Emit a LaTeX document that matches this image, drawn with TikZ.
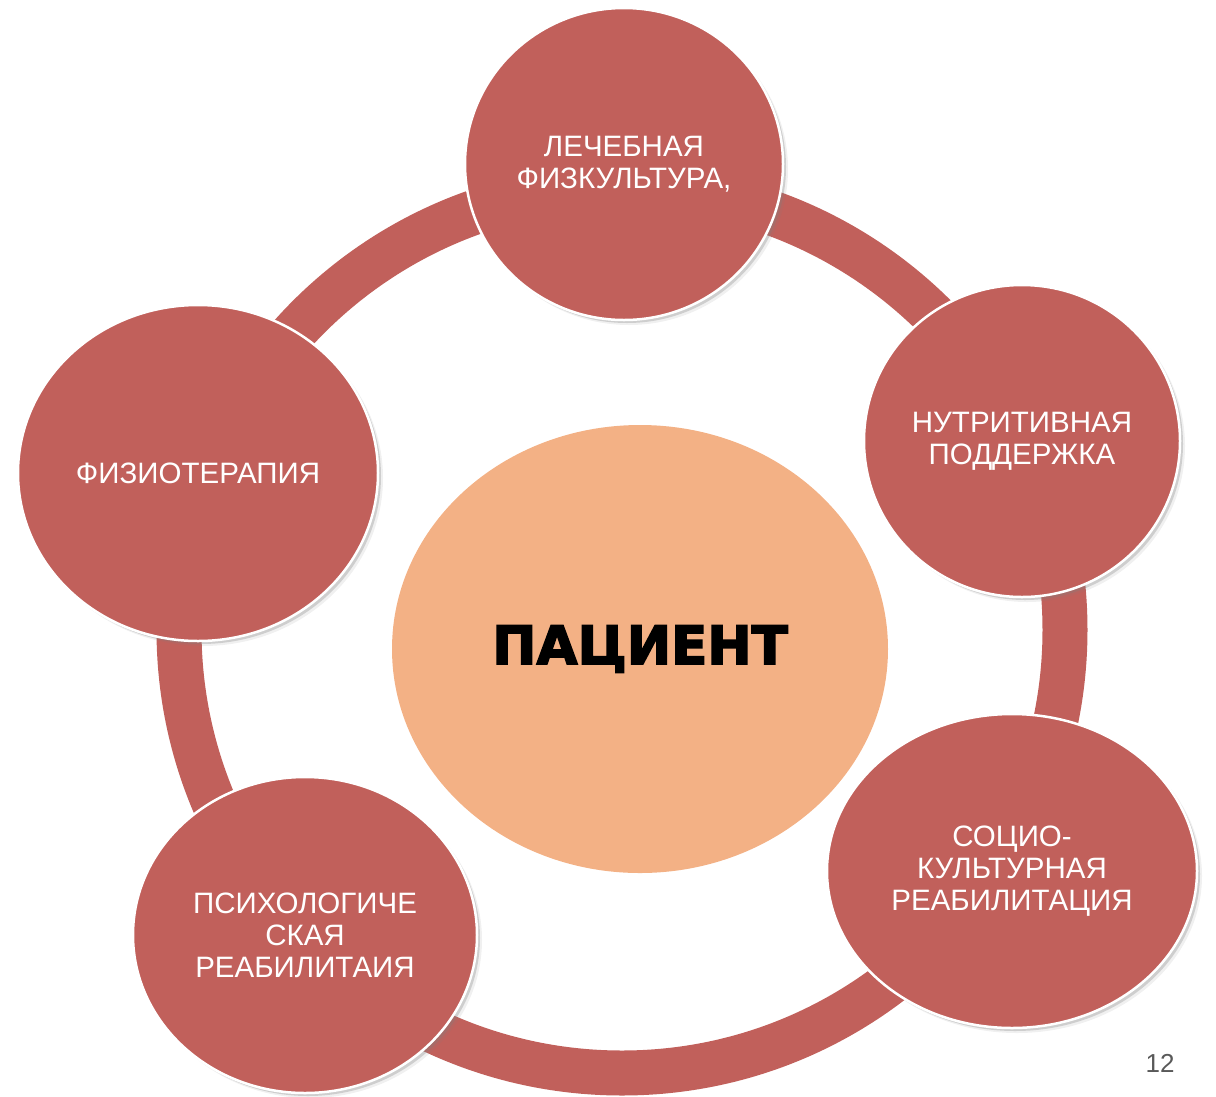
\documentclass[tikz,border=0pt]{standalone}
\usepackage{fontspec}
\setmainfont{Liberation Sans}
\newfontfamily\heavyfont{DejaVu Sans}[BoldFeatures={FakeBold=3}]
\usepackage{tikz}
\usetikzlibrary{shapes.geometric,shadows}
\definecolor{ringred}{HTML}{C1605B}
\definecolor{corepeach}{HTML}{F3B185}
\definecolor{pagegrey}{HTML}{595959}

\begin{document}
\begin{tikzpicture}[
  x=1pt,y=-1pt,
  ringline/.style={draw=ringred,line width=45pt},
  areanode/.style={ellipse,fill=ringred,draw=white,line width=2.5pt,inner sep=0pt,
    text=white,align=center,font=\fontsize{29.5}{32}\selectfont,
    drop shadow={shadow xshift=5pt,shadow yshift=-5pt,opacity=0.12},
    drop shadow={shadow xshift=3pt,shadow yshift=-3pt,opacity=0.3}},
  corenode/.style={ellipse,fill=corepeach,inner sep=0pt,minimum width=496pt,minimum height=448pt,
    font=\heavyfont\bfseries\fontsize{53}{60}\selectfont},
  pagenum/.style={text=pagegrey,font=\fontsize{26}{30}\selectfont},
]
\useasboundingbox (0,0) rectangle (1216,1096);

% ring behind everything
\draw[ringline] (622,630) circle[radius=443];

% centre
\node[corenode] (patient) at (640,649) {ПАЦИЕНТ};

% five areas around the ring
\node[areanode,minimum width=318pt,minimum height=312pt] (lfk)   at (624,164)  {ЛЕЧЕБНАЯ\\ФИЗКУЛЬТУРА,};
\node[areanode,minimum width=316pt,minimum height=312pt] (nutr)  at (1022,441) {НУТРИТИВНАЯ\\ПОДДЕРЖКА};
\node[areanode,minimum width=370pt,minimum height=314pt] (socio) at (1012,871) {СОЦИО-\\КУЛЬТУРНАЯ\\РЕАБИЛИТАЦИЯ};
\node[areanode,minimum width=344pt,minimum height=316pt] (psych) at (305,935)  {ПСИХОЛОГИЧЕ\\СКАЯ\\РЕАБИЛИТАИЯ};
\node[areanode,minimum width=360pt,minimum height=336pt] (physio) at (198,473) {ФИЗИОТЕРАПИЯ};

\node[pagenum] (page) at (1160,1063) {12};
\end{tikzpicture}
\end{document}
